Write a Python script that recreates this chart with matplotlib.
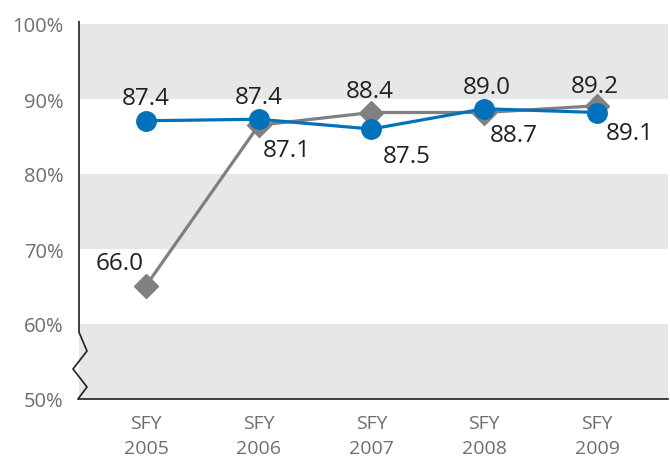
import matplotlib
matplotlib.use("Agg")
import matplotlib.pyplot as plt
from matplotlib.lines import Line2D

categories = ["SFY\n2005", "SFY\n2006", "SFY\n2007", "SFY\n2008", "SFY\n2009"]
blue_values = [87.1, 87.3, 86.0, 88.7, 88.2]
grey_values = [65.1, 86.5, 88.2, 88.2, 89.1]
blue_labels = ["87.4", "87.4", "87.5", "89.0", "89.1"]
grey_labels = ["66.0", "87.1", "88.4", "88.7", "89.2"]
y_ticks = [50, 60, 70, 80, 90, 100]
y_ticklabels = ["50%", "60%", "70%", "80%", "90%", "100%"]

# label offsets in pixels (style)
blue_offsets = [(0, 23), (0, 22), (35, -27), (3, 21.5), (33, -20)]
grey_offsets = [(-26, 23), (28, -25), (-2, 21), (30, -22), (-2, 20)]

BLUE = "#0072BC"
GREY = "#808080"
BAND = "#E6E7E8"
FONT = "Open Sans"

fig = plt.figure(figsize=(6.7, 4.6), dpi=100)
ax = fig.add_axes([79/670, 60/460, 589/670, 375/460])
x = list(range(len(categories)))
ax.set_xlim(-0.594, 4.63)
ax.set_ylim(50, 100)

for lo, hi in [(50, 60), (70, 80), (90, 100)]:
    ax.axhspan(lo, hi, color=BAND, lw=0, zorder=0)

ax.plot(x, grey_values, color=GREY, lw=2.3, marker="D", markersize=12, zorder=3)
ax.plot(x, blue_values, color=BLUE, lw=2.3, marker="o", markersize=14, zorder=4)

for xi, v, lab, off in zip(x, blue_values, blue_labels, blue_offsets):
    ax.annotate(lab, (xi, v), xytext=off, textcoords="offset pixels",
                ha="center", va="center", fontsize=17.5, color="#231F20",
                family=FONT, zorder=5)
for xi, v, lab, off in zip(x, grey_values, grey_labels, grey_offsets):
    ax.annotate(lab, (xi, v), xytext=off, textcoords="offset pixels",
                ha="center", va="center", fontsize=17.5, color="#231F20",
                family=FONT, zorder=5)

for s in ["top", "right", "left"]:
    ax.spines[s].set_visible(False)
ax.spines["bottom"].set_color("#231F20")
ax.spines["bottom"].set_linewidth(1.2)

# left spine with break
tr = ax.get_yaxis_transform()
w = 589.0
pts_x = [0, 0, 8/w, -6/w, 8/w, -1/w]
pts_y = [100.3, 58.9, 56.4, 54.0, 51.6, 50.0]
ax.add_line(Line2D(pts_x, pts_y, transform=tr, color="#231F20", lw=1.2,
                   clip_on=False, zorder=6))

ax.set_yticks(y_ticks)
ax.set_yticklabels(y_ticklabels, family=FONT, fontsize=14.5, color="#6D6E71")
ax.set_xticks(x)
ax.set_xticklabels(categories, family=FONT, fontsize=14, color="#6D6E71",
                   linespacing=1.45)
ax.tick_params(axis="both", length=0)
ax.tick_params(axis="y", pad=11)
ax.tick_params(axis="x", pad=11)

fig.savefig("out.png", dpi=100)
